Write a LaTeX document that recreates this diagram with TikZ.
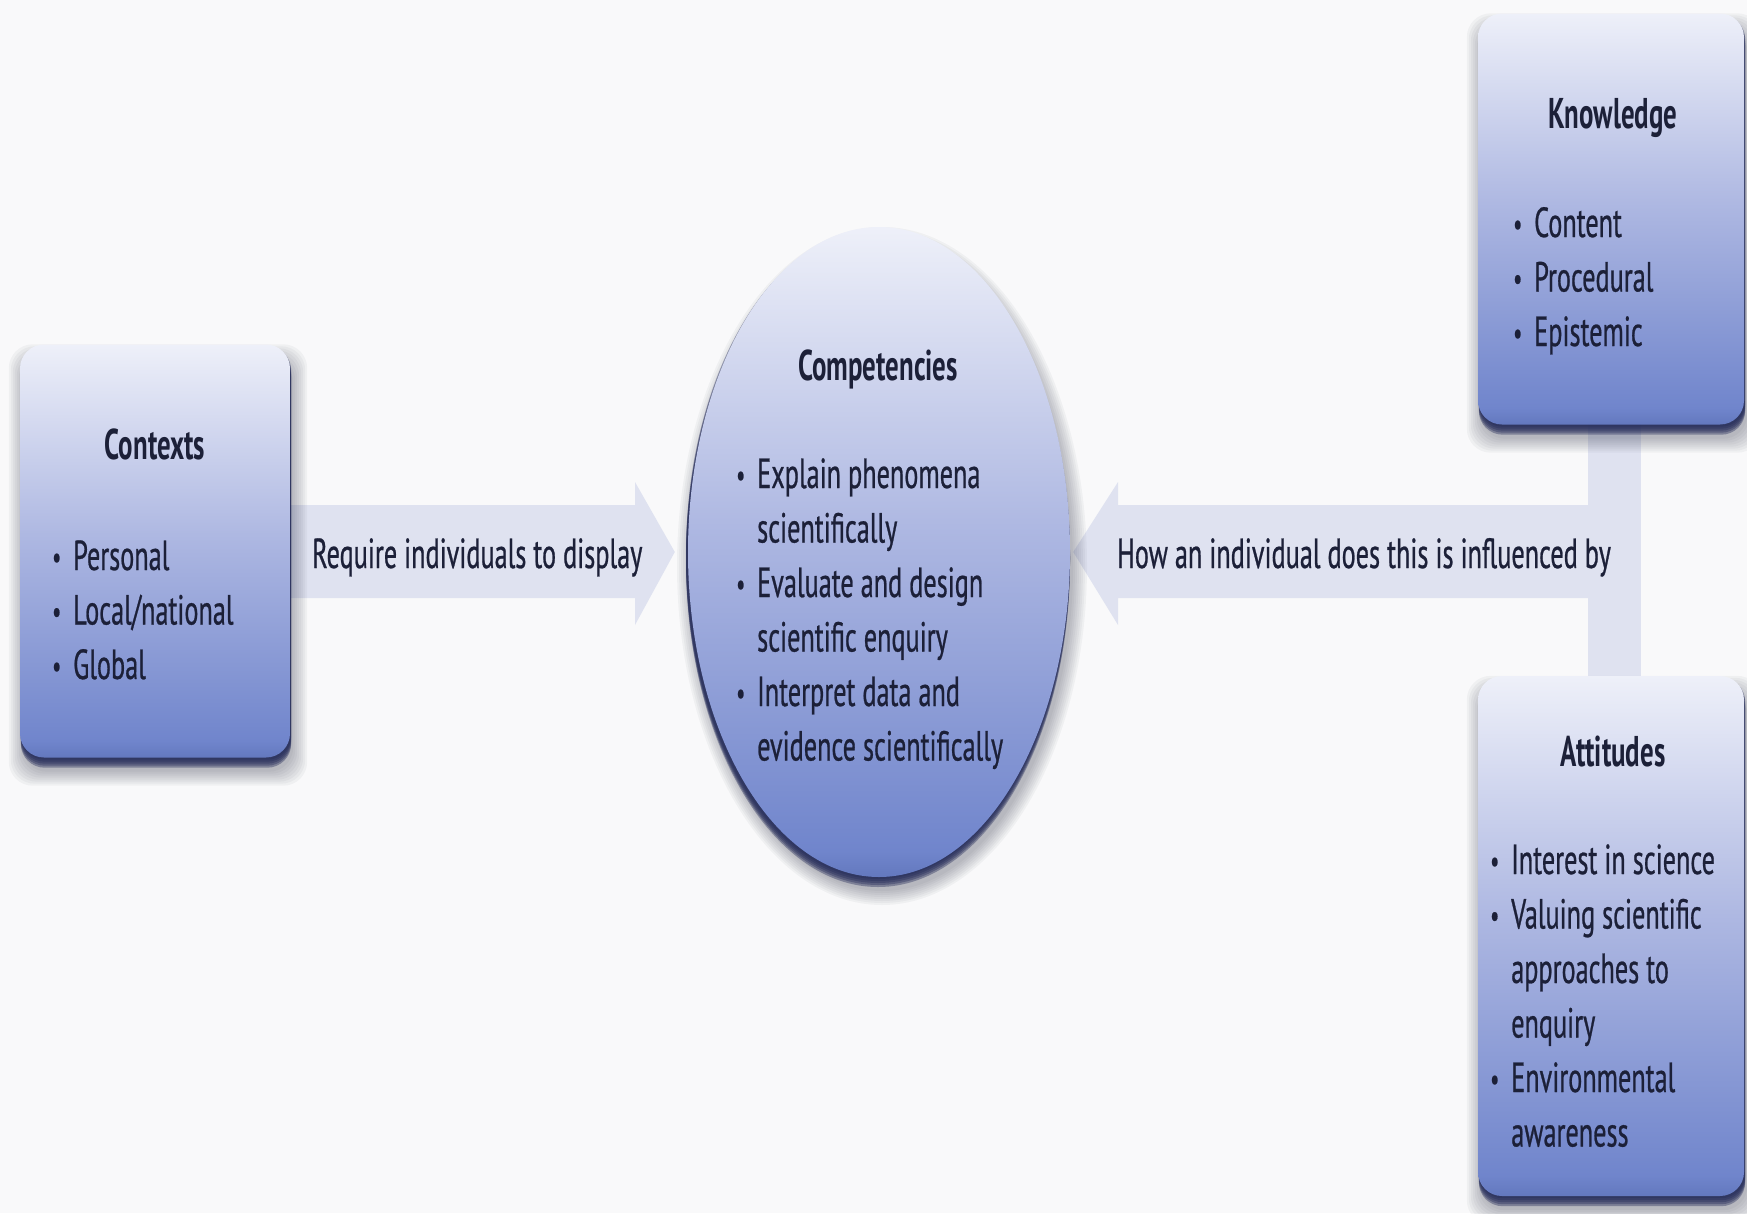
\documentclass[tikz,border=0pt]{standalone}
\usepackage{fontspec}
\setmainfont{PT Sans}[FakeStretch=0.625, UprightFeatures={FakeBold=0.6}]
\usetikzlibrary{calc,shapes.geometric}
\definecolor{bg}{HTML}{F9F9FA}
\definecolor{txt}{HTML}{1C2038}
\definecolor{arr}{HTML}{DFE2F0}
\definecolor{btop}{HTML}{EEF0F9}
\definecolor{bmid}{HTML}{AEB8E2}
\definecolor{bbot}{HTML}{7085CC}
\definecolor{bdark}{HTML}{6378BE}
\definecolor{shd}{HTML}{262B40}
\definecolor{rim}{HTML}{262D5A}
\pgfdeclareverticalshading{boxshade}{100bp}{color(0bp)=(bdark); color(25bp)=(bdark); color(27bp)=(bbot); color(52bp)=(bmid); color(75bp)=(btop); color(100bp)=(btop)}
\pgfdeclarelayer{back}
\pgfdeclarelayer{behind}
\pgfdeclarelayer{shadow}
\pgfsetlayers{back,behind,shadow,main}
\newcommand{\blt}{\makebox[21pt][l]{\fontsize{32}{32}\selectfont\raisebox{2pt}{•}}}
\newcommand{\hind}{\hspace*{21pt}}
\newcommand{\natsp}{\spaceskip=0pt\xspaceskip=0pt\relax}
\tikzset{
  box/.style={rectangle, rounded corners=24pt, shading=boxshade, inner sep=0pt},
  bubble/.style={ellipse, shading=boxshade, inner sep=0pt},
  softshadow/.style={fill=shd, opacity=0.045},
  rimshadow/.style={fill=rim, opacity=0.4},
  title/.style={anchor=base, inner sep=0pt, font=\fontsize{43}{54.5}\selectfont\bfseries},
  list/.style={anchor=base west, inner sep=0pt, align=left, text width=420pt},
  label/.style={anchor=base west, inner sep=0pt},
  fatarrow/.style={fill=arr, draw=none}
}
\begin{document}
\begin{tikzpicture}[x=1pt,y=-1pt, font=\fontsize{42}{54.5}\selectfont, every node/.append style={text=txt}]
\begin{pgfonlayer}{back}
\fill[bg] (0,0) rectangle (1747,1213);
\end{pgfonlayer}
\useasboundingbox (0,0) rectangle (1747,1213);

% boxes
\node[box, minimum width=270pt, minimum height=413pt] (ctx) at (155,551) {};
\node[box, minimum width=266pt, minimum height=411pt] (know) at (1611,219) {};
\node[box, minimum width=266pt, minimum height=520pt] (att) at (1611,936) {};
\node[bubble, minimum width=382pt, minimum height=650pt] (comp) at (879,552) {};

% soft shadows and dark rims
\begin{pgfonlayer}{shadow}
\foreach \n in {ctx,know,att}{
  \foreach \e in {14,12,...,0}{
    \fill[softshadow, rounded corners=24pt]
      ($(\n.north west)+(3-\e,14-\e)$) rectangle ($(\n.south east)+(3+\e,14+\e)$);
  }
  \foreach \s in {2,4,6,8,10}{
    \fill[rimshadow, rounded corners=24pt]
      ($(\n.north west)+(1,\s)$) rectangle ($(\n.south east)+(1,\s)$);
  }
}
\foreach \e in {14,12,...,0}{
  \fill[softshadow] ($(comp.center)+(3,14)$) ellipse [x radius=191+\e, y radius=325+\e];
}
\foreach \s in {2,4,6,8,10}{
  \fill[rimshadow] ($(comp.center)+(-1,\s)$) ellipse [x radius=192, y radius=325];
}
\end{pgfonlayer}

% connectors (behind)
\coordinate (rtip) at ($(comp.west)+(-13,0)$);
\coordinate (ltip) at ($(comp.east)+(3,0)$);
\begin{pgfonlayer}{behind}
\path[fatarrow] (ctx.center |- 0,505) -- (635,505) -- (635,482) -- (rtip)
   -- (635,625) -- (635,598) -- (ctx.center |- 0,598) -- cycle;
\path[fatarrow] (1600,505) -- (1118,505) -- (1118,482) -- (ltip)
   -- (1118,625) -- (1118,598) -- (1600,598) -- cycle;
\path[fatarrow] (1588,0 |- know.center) rectangle (1641,0 |- att.center);
\end{pgfonlayer}

% texts
\node[title] (ctxT) at (155,459) {Contexts};
\node[list] (ctxL) at (52,570) {\natsp\blt Personal\\\blt Local/national\\\blt Global};

\node[title] (knowT) at (1613,128) {Knowledge};
\node[list] (knowL) at (1513,237) {\natsp\blt Content\\\blt Procedural\\\blt Epistemic};

\node[title] (attT) at (1613,766) {Attitudes};
\node[list] (attL) at (1490,874) {\natsp\blt Interest in science\\\blt Valuing scientific\\\hind approaches to\\\hind enquiry\\\blt Environmental\\\hind awareness};

\node[title] (compT) at (878,380) {Competencies};
\node[list] (compL) at (736,488) {\natsp\blt Explain phenomena\\\hind scientifically\\\blt Evaluate and design\\\hind scientific enquiry\\\blt Interpret data and\\\hind evidence scientifically};

\node[label] (rq) at (312,568) {Require individuals to display};
\node[label] (hw) at (1117,568) {How an individual does this is influenced by};
\end{tikzpicture}
\end{document}
